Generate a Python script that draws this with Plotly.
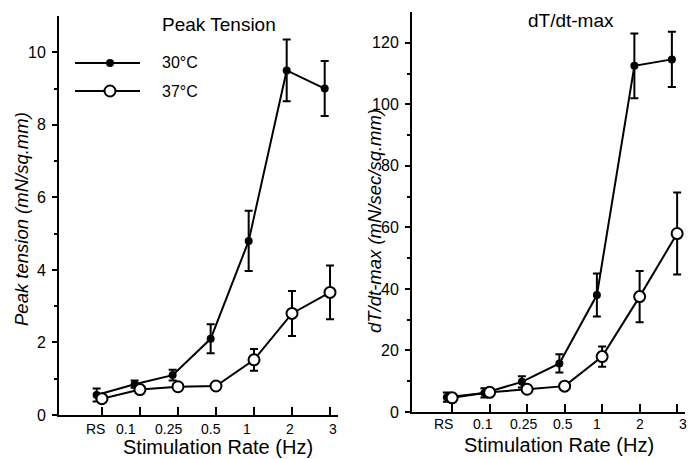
import plotly.graph_objects as go

# ---------------- data ----------------
categories = ["RS", "0.1", "0.25", "0.5", "1", "2", "3"]

peak_30 = [0.55, 0.85, 1.10, 2.10, 4.80, 9.50, 9.00]
peak_30_err = [0.18, 0.10, 0.15, 0.40, 0.83, 0.85, 0.76]
peak_37 = [0.45, 0.70, 0.78, 0.80, 1.52, 2.80, 3.38]
peak_37_err = [0.08, 0.06, 0.10, 0.08, 0.30, 0.62, 0.74]

dtdt_30 = [4.8, 6.2, 9.8, 15.8, 38.0, 112.5, 114.6]
dtdt_30_err = [1.5, 1.5, 1.8, 3.0, 7.0, 10.5, 9.0]
dtdt_37 = [4.6, 6.4, 7.4, 8.4, 18.0, 37.5, 58.0]
dtdt_37_err = [1.0, 0.8, 1.0, 0.8, 3.3, 8.3, 13.3]

series_names = ["30°C", "37°C"]

# ---------------- layout constants ----------------
W, H = 698, 459
FONT = "Arial, Liberation Sans, Helvetica, sans-serif"
OFF30 = -0.14  # horizontal offset of 30°C points
idx = list(range(len(categories)))
# hand-placed label positions (in category units) as in the original
lab_pos_left = [-0.18, 0.63, 1.74, 2.87, 3.82, 4.95, 6.08]
lab_pos_right = [-0.24, 0.83, 1.89, 2.96, 3.87, 5.01, 6.16]


def px(x):
    return x / W


def py(y):
    return 1 - y / H


fig = go.Figure()


def add_series(xa, ya, vals, errs, filled, offset):
    fig.add_trace(go.Scatter(
        x=[i + offset for i in idx], y=vals, xaxis=xa, yaxis=ya,
        mode="lines+markers",
        line=dict(color="black", width=2),
        marker=dict(
            size=8 if filled else 11,
            color="black" if filled else "white",
            line=dict(color="black", width=0 if filled else 2),
            symbol="circle",
        ),
        error_y=dict(type="data", array=errs, visible=True,
                     color="black", thickness=2, width=4),
        showlegend=False, hoverinfo="skip",
    ))


add_series("x", "y", peak_30, peak_30_err, True, OFF30)
add_series("x", "y", peak_37, peak_37_err, False, 0)
add_series("x2", "y2", dtdt_30, dtdt_30_err, True, OFF30)
add_series("x2", "y2", dtdt_37, dtdt_37_err, False, 0)

xcommon = dict(
    tickmode="array", tickvals=idx, ticktext=["" for _ in idx],
    ticks="inside", ticklen=8, tickwidth=2, tickcolor="black",
    showline=True, linecolor="black", linewidth=2,
    showgrid=False, zeroline=False, fixedrange=True, automargin=False,
)
ycommon = dict(
    ticks="outside", ticklen=5, tickwidth=2, tickcolor="black",
    showline=True, linecolor="black", linewidth=2,
    showgrid=False, zeroline=False, fixedrange=True, automargin=False,
    tickfont=dict(family=FONT, size=16, color="black"),
    ticklabelstandoff=3,
)

fig.update_layout(
    width=W, height=H,
    margin=dict(l=0, r=0, t=0, b=0, pad=0, autoexpand=False),
    paper_bgcolor="white", plot_bgcolor="white",
    xaxis=dict(domain=[px(59), px(338)], range=[-1.13, 6.21],
               anchor="y", **xcommon),
    yaxis=dict(domain=[py(415), py(16)], range=[0, 11], anchor="x",
               tickvals=[0, 2, 4, 6, 8, 10],
               minor=dict(tickvals=[1, 3, 5, 7, 9], ticks="outside",
                          ticklen=3, tickwidth=2, tickcolor="black"),
               **ycommon),
    xaxis2=dict(domain=[px(412), px(685)], range=[-1.07, 6.21],
                anchor="y2", **xcommon),
    yaxis2=dict(domain=[py(412), py(12)], range=[0, 130], anchor="x2",
                tickvals=[0, 20, 40, 60, 80, 100, 120],
                minor=dict(tickvals=[10, 30, 50, 70, 90, 110], ticks="outside",
                           ticklen=3, tickwidth=2, tickcolor="black"),
                **ycommon),
)

ann = []


def text(x, y, s, size, xref="paper", xanchor="center", angle=0):
    ann.append(dict(x=x, y=y, xref=xref, yref="paper", text=s,
                    showarrow=False, xanchor=xanchor, yanchor="middle",
                    textangle=angle,
                    font=dict(family=FONT, size=size, color="black")))


# category labels
for lab, xp in zip(categories, lab_pos_left):
    text(xp, py(429), lab, 14, xref="x")
for lab, xp in zip(categories, lab_pos_right):
    text(xp, py(424), lab, 14, xref="x2")

# axis titles
text(px(218), py(447), "Stimulation Rate (Hz)", 20)
text(px(559), py(445), "Stimulation Rate (Hz)", 20)
text(px(21), py(219), "<i>Peak tension (mN/sq.mm)</i>", 18.5, angle=-90)
text(px(375), py(221), "<i>dT/dt-max (mN/sec/sq.mm)</i>", 18.5, angle=-90)

# panel titles
text(px(219), py(24), "Peak Tension", 19)
text(px(571), py(21), "dT/dt-max", 19)

# legend
shapes = []
leg_rows = [(63, True), (91, False)]
for (yy, filled), name in zip(leg_rows, series_names):
    shapes.append(dict(type="line", xref="paper", yref="paper",
                       x0=px(75), x1=px(140), y0=py(yy), y1=py(yy),
                       line=dict(color="black", width=2)))
    d = 8 if filled else 11
    shapes.append(dict(type="circle", xref="paper", yref="paper",
                       xsizemode="pixel", ysizemode="pixel",
                       xanchor=px(110), yanchor=py(yy),
                       x0=-d / 2, x1=d / 2, y0=-d / 2, y1=d / 2,
                       fillcolor="black" if filled else "white",
                       line=dict(color="black", width=0 if filled else 2)))
    text(px(160), py(yy), name, 16, xanchor="left")

fig.update_layout(annotations=ann, shapes=shapes)
fig.write_html("out.html")
